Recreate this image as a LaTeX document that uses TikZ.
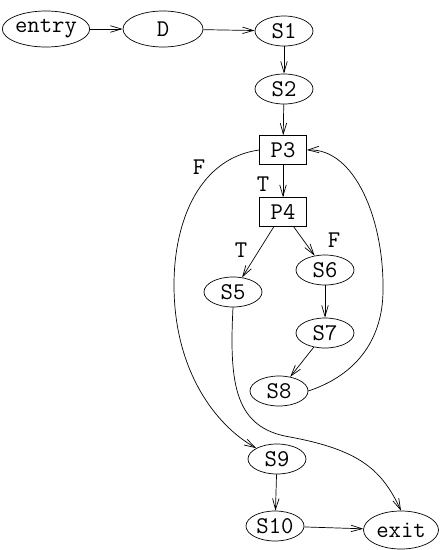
\documentclass[tikz,border=0pt]{standalone}
\usetikzlibrary{shapes.geometric,arrows.meta}
\begin{document}
\begin{tikzpicture}[x=1pt,y=-1pt,
  every node/.style={font=\fontsize{24}{26}\selectfont\ttfamily},
  en/.style={draw, ellipse, inner sep=0pt, minimum width=58pt, minimum height=30pt, line width=0.7pt},
  bx/.style={draw, rectangle, inner sep=0pt, minimum width=47pt, minimum height=29pt, line width=0.7pt},
  lbl/.style={inner sep=0pt},
  edge/.style={-{Straight Barb[length=11pt,width=6.5pt]}, line width=0.7pt}]
\useasboundingbox (0,0) rectangle (440,550);
% nodes
\node[en, minimum width=80pt, minimum height=36pt] (entry) at (46,29) {entry};
\node[en, minimum width=80pt, minimum height=36pt] (D) at (163,29) {D};
\node[en] (S1) at (284,31) {S1};
\node[en] (S2) at (284,89) {S2};
\node[bx] (P3) at (283,150) {P3};
\node[bx] (P4) at (283,212) {P4};
\node[en] (S5) at (233,292) {S5};
\node[en] (S6) at (325,270) {S6};
\node[en] (S7) at (325,333) {S7};
\node[en] (S8) at (279,391) {S8};
\node[en] (S9) at (277,459) {S9};
\node[en] (S10) at (275,526) {S10};
\node[en, minimum width=75pt, minimum height=38pt] (exit) at (401,530) {exit};
% labels
\node[lbl] (lF1) at (199,167) {F};
\node[lbl] (lT1) at (263,184) {T};
\node[lbl] (lT2) at (241,250) {T};
\node[lbl] (lF2) at (334,240) {F};
% edges
\draw[edge] (entry) -- (D);
\draw[edge] (D) -- (S1);
\draw[edge] (S1) -- (S2);
\draw[edge] (S2) -- (P3);
\draw[edge] (P3) -- (P4);
\draw[edge] (P4) -- (S5);
\draw[edge] (P4) -- (S6);
\draw[edge] (S6) -- (S7);
\draw[edge] (S7) -- (S8);
\draw[edge] (S9) -- (S10);
\draw[edge] (S10) -- (exit);
\draw[edge] (S8.east) .. controls (365,372) and (383,330) .. (383,290)
  .. controls (384,220) and (355,148) .. (P3.east);
\draw[edge] (P3.west) .. controls (200,158) and (174,220) .. (174,285)
  .. controls (174,370) and (215,425) .. (S9.north west);
\draw[edge] (S5.south) .. controls (229,385) and (235,428) .. (290,437)
  .. controls (360,450) and (382,470) .. (exit.north);
\end{tikzpicture}
\end{document}
